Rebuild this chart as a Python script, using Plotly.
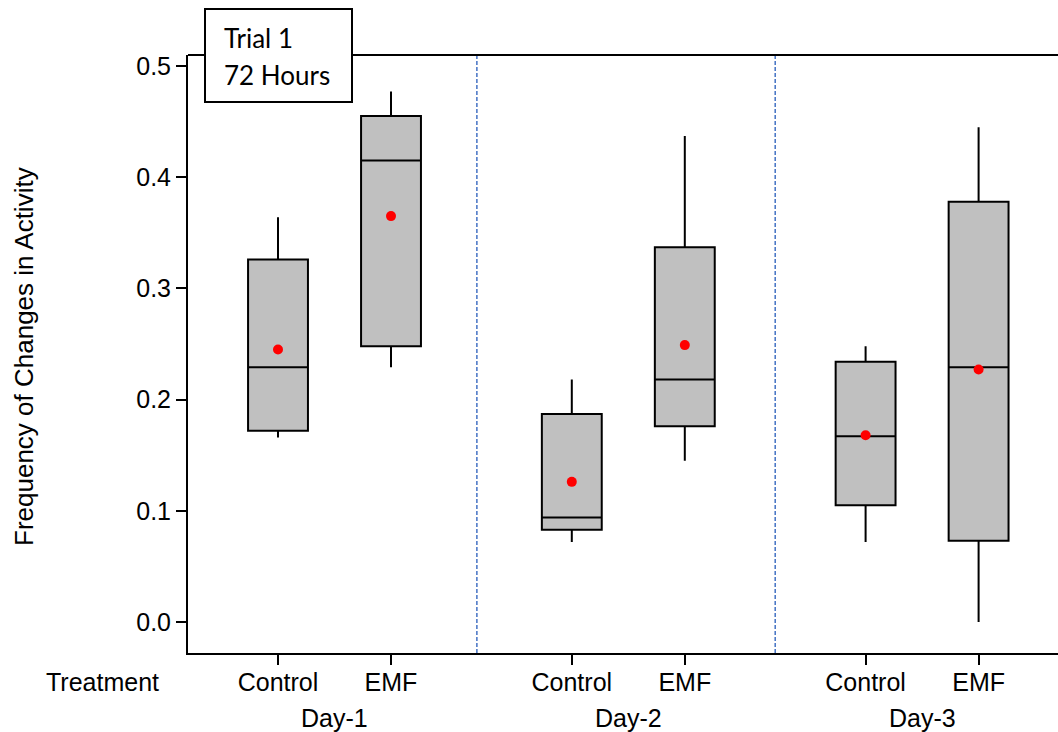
import plotly.graph_objects as go

# ---- data ----
days = ["Day-1", "Day-2", "Day-3"]
treatments = ["Control", "EMF"]
positions = [1.0, 2.0, 3.6, 4.6, 6.2, 7.2]
tick_labels = ["Control", "EMF", "Control", "EMF", "Control", "EMF"]
upper_whisker = [0.364, 0.477, 0.218, 0.437, 0.248, 0.445]
q3_vals = [0.326, 0.455, 0.187, 0.337, 0.234, 0.378]
median_vals = [0.229, 0.415, 0.094, 0.218, 0.167, 0.229]
q1_vals = [0.172, 0.248, 0.083, 0.176, 0.105, 0.073]
lower_whisker = [0.166, 0.229, 0.072, 0.145, 0.072, 0.000]
mean_vals = [0.245, 0.365, 0.126, 0.249, 0.168, 0.227]
y_ticks = [0.0, 0.1, 0.2, 0.3, 0.4, 0.5]
y_tick_labels = ["0.0", "0.1", "0.2", "0.3", "0.4", "0.5"]
dividers = [2.76, 5.40]

FONT = "Liberation Sans, Arial, sans-serif"

fig = go.Figure()
fig.add_trace(go.Box(
    x=positions, q1=q1_vals, median=median_vals, q3=q3_vals,
    lowerfence=lower_whisker, upperfence=upper_whisker,
    width=0.53, whiskerwidth=0, boxpoints=False,
    fillcolor="#C0C0C0", line=dict(color="black", width=2),
    showlegend=False, hoverinfo="skip",
))
fig.add_trace(go.Scatter(
    x=positions, y=mean_vals, mode="markers",
    marker=dict(color="#FF0000", size=10), showlegend=False,
))

shapes = []
for d in dividers:
    shapes.append(dict(type="line", xref="x", yref="paper", x0=d, x1=d, y0=0, y1=1,
                       line=dict(color="#4472C4", width=1.5, dash="4px,2px"), layer="above"))
# top frame line
shapes.append(dict(type="line", xref="paper", yref="paper", x0=0, x1=1, y0=1, y1=1,
                   line=dict(color="black", width=2), layer="above"))
# trial label box
shapes.append(dict(type="rect", xref="paper", yref="paper",
                   x0=(205 - 188) / 870, x1=(352 - 188) / 870,
                   y0=(653 - 102) / 598, y1=(653 - 9) / 598,
                   fillcolor="white", line=dict(color="black", width=2), layer="above"))

annotations = []
for i, day in enumerate(days):
    cx = (positions[2 * i] + positions[2 * i + 1]) / 2
    annotations.append(dict(x=cx, y=(653 - 718) / 598, xref="x", yref="paper",
                            text=day, showarrow=False, xanchor="center", yanchor="middle",
                            font=dict(family=FONT, size=25, color="black")))
annotations.append(dict(x=(102 - 188) / 870, y=(653 - 682) / 598, xref="paper", yref="paper",
                        text="Treatment", showarrow=False, xanchor="center", yanchor="middle",
                        font=dict(family=FONT, size=25, color="black")))
annotations.append(dict(x=(24 - 188) / 870, y=(653 - 357) / 598, xref="paper", yref="paper",
                        text="Frequency of Changes in Activity", textangle=-90, showarrow=False,
                        xanchor="center", yanchor="middle",
                        font=dict(family=FONT, size=26, color="black")))
for txt, py in [("Trial 1", 38), ("72 Hours", 75)]:
    annotations.append(dict(x=(222 - 188) / 870, y=(653 - py) / 598, xref="paper", yref="paper",
                            text=txt, showarrow=False, xanchor="left", yanchor="middle",
                            font=dict(family="Lato, Open Sans, sans-serif", size=26, color="black")))

fig.update_layout(
    width=1058, height=732,
    margin=dict(l=188, r=0, t=55, b=79),
    paper_bgcolor="white", plot_bgcolor="white",
    shapes=shapes, annotations=annotations,
    xaxis=dict(range=[0.2035, 7.9027], tickvals=positions, ticktext=tick_labels,
               ticks="outside", ticklen=10, tickwidth=2, tickcolor="black",
               ticklabelstandoff=-4,
               showline=True, linecolor="black", linewidth=2,
               showgrid=False, zeroline=False,
               tickfont=dict(family=FONT, size=25, color="black")),
    yaxis=dict(range=[-0.0279, 0.5099], tickvals=y_ticks, ticktext=y_tick_labels,
               ticks="outside", ticklen=10, tickwidth=2, tickcolor="black",
               showline=True, linecolor="black", linewidth=2,
               showgrid=False, zeroline=False,
               tickfont=dict(family=FONT, size=25, color="black")),
)

fig.write_html("out.html")
